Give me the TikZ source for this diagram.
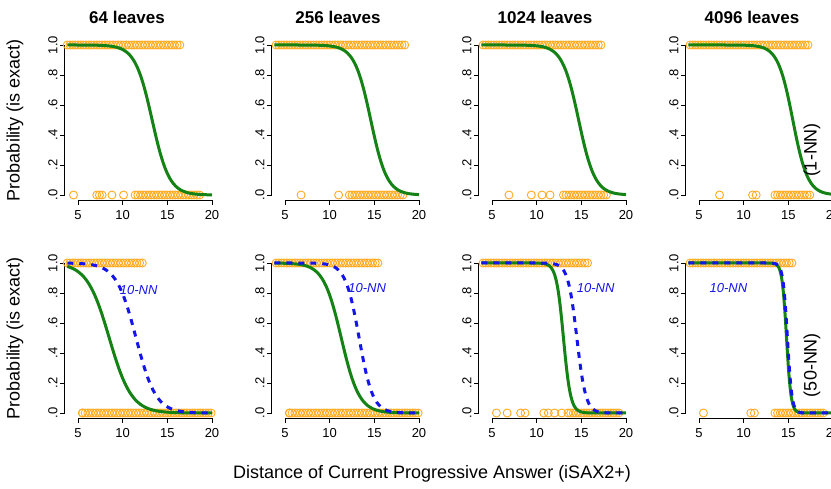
\documentclass[tikz,border=0pt]{standalone}
\usepackage{fontspec}
\setmainfont{Liberation Sans}
\definecolor{dotorange}{RGB}{255,170,30}
\definecolor{fitgreen}{RGB}{20,130,20}
\definecolor{nnblue}{RGB}{20,20,235}
\tikzset{
  pt/.style={dotorange,line width=0.9pt},
  fit/.style={fitgreen,line width=3pt},
  fitnn/.style={nnblue,line width=3pt,dash pattern=on 6pt off 6pt},
  ticklab/.style={font=\fontsize{13}{13}\selectfont,inner sep=1pt},
  axlab/.style={font=\fontsize{18}{18}\selectfont}
}
% one panel: x shift, y top, then the drawing inside
\newcommand{\panelbox}[3]{%
  \begin{scope}[shift={(#1-44.67,#2+150)},x=8.933pt,y=150pt]
    \draw[line width=0.8pt] (3.5,0) -- (3.5,1);
    \foreach \v/\t in {0/.0,0.2/.2,0.4/.4,0.6/.6,0.8/.8,1/1.0}{
      \draw[line width=0.8pt] (3.5,\v) -- ++(-5pt,0);
      \node[ticklab,rotate=90,anchor=south] at ([xshift=-6pt]3.5,\v) {\t};}
    \draw[line width=0.8pt] (5,-0.033) -- (20,-0.033);
    \foreach \u in {5,10,15,20}{
      \draw[line width=0.8pt] (\u,-0.033) -- ++(0,-5pt);
      \node[ticklab,anchor=north] at ([yshift=-9pt]\u,-0.033) {\u};}
    #3
  \end{scope}}
\newcommand{\ptrows}[3]{% top list, bottom list, bottom dense list
  \foreach \u in {#1} \draw[pt] (\u,1) circle (4pt);
  \foreach \u in {#2} \draw[pt] (\u,0) circle (4pt);
  \foreach \u in {#3} \draw[pt] (\u,0) circle (4pt);}
\newcommand{\sig}[3]{\draw[#1] plot[domain=3.8:20,samples=80,smooth] (\x,{1/(1+exp(max(-9,min(9,#3*(\x-#2)))))});}
\begin{document}
\begin{tikzpicture}[x=1pt,y=-1pt]
\useasboundingbox (0,0) rectangle (831,489);
% top row (1-NN)
\panelbox{78}{45}{\ptrows{3.8,4.1,...,16.5}{4.5,7.1,7.4,7.7,8.8,10.1}{11.4,11.7,...,18.8}
  \sig{fit}{13.3}{1.05}}
\panelbox{285}{45}{\ptrows{4,4.3,...,18.5}{6.8,11}{12.2,12.5,...,18.5}
  \sig{fit}{14.6}{1.1}}
\panelbox{492}{45}{\ptrows{4,4.3,...,17.5}{6.9,9.4,10.6,11.5}{13,13.3,...,18}
  \sig{fit}{14.7}{1.1}}
\panelbox{699}{45}{\ptrows{4,4.3,...,17.5}{7.3,11,11.4}{13.5,13.8,...,17.5}
  \sig{fit}{15.5}{1.2}}
% bottom row (50-NN)
\panelbox{78}{263}{\ptrows{3.8,4.1,...,12.5}{5.5}{5.5,5.8,...,20}
  \sig{fit}{8.5}{0.8}\sig{fitnn}{11.5}{0.9}
  \node[nnblue,font=\itshape\fontsize{13}{13}\selectfont] (nnA) at (11.8,0.82) {10-NN};}
\panelbox{285}{263}{\ptrows{4,4.3,...,15.5}{5.5}{5.5,5.8,...,20}
  \sig{fit}{11.3}{1.0}\sig{fitnn}{13.3}{1.3}
  \node[nnblue,font=\itshape\fontsize{13}{13}\selectfont] (nnB) at (14.2,0.83) {10-NN};}
\panelbox{492}{263}{\ptrows{4,4.3,...,15.8}{5.5,6.7,8.2,8.7,10.8,11.3,12,12.8}{13.5,13.8,...,19.5}
  \sig{fit}{13.0}{2.5}\sig{fitnn}{14.5}{2.0}
  \node[nnblue,font=\itshape\fontsize{13}{13}\selectfont] (nnC) at (16.6,0.83) {10-NN};}
\panelbox{699}{263}{\ptrows{4,4.3,...,15.5}{5.5,10.8,11.2}{13.5,13.8,...,19}
  \sig{fit}{14.8}{4}\sig{fitnn}{14.9}{4}
  \node[nnblue,font=\itshape\fontsize{13}{13}\selectfont] (nnD) at (8.3,0.83) {10-NN};}
% Labels
\foreach \cx/\t in {127/64,338/256,545/1024,752/4096}
  \node[font=\bfseries\fontsize{17}{17}\selectfont] (title\t) at (\cx,17) {\t{} leaves};
\node[axlab,rotate=90] (ylabA) at (15,120) {Probability (is exact)};
\node[axlab,rotate=90] (ylabB) at (15,338) {Probability (is exact)};
\node[axlab,rotate=90] (rowA) at (812,150) {(1-NN)};
\node[axlab,rotate=90] (rowB) at (812,365) {(50-NN)};
\node[axlab] (xlab) at (432,474) {Distance of Current Progressive Answer (iSAX2+)};
\end{tikzpicture}
\end{document}
